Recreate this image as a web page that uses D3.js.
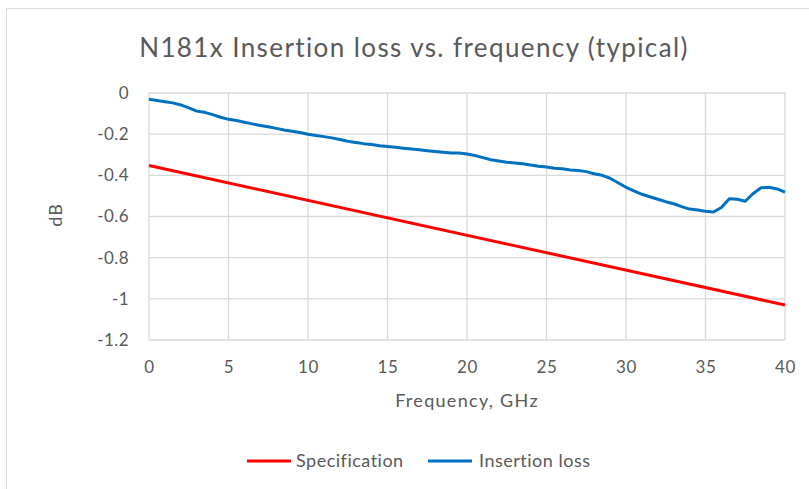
<!DOCTYPE html>
<html>
<head>
<meta charset="utf-8">
<script src="https://cdn.jsdelivr.net/npm/d3@7"></script>
<style>
  body { margin: 0; background: #fff; }
  svg { display: block; }
  text { font-family: "Lato", "Open Sans", sans-serif; fill: #595959; }
</style>
</head>
<body>
<svg id="chart" width="809" height="489"></svg>
<script>
const title = "N181x Insertion loss vs. frequency (typical)";
const xTicks = [0, 5, 10, 15, 20, 25, 30, 35, 40];
const yTicks = [0, -0.2, -0.4, -0.6, -0.8, -1, -1.2];
const specFreq = [0, 40];
const specValues = [-0.352, -1.03];
const lossFreq = [0,0.5,1,1.5,2,2.5,3,3.5,4,4.5,5,5.5,6,6.5,7,7.5,8,8.5,9,9.5,10,10.5,11,11.5,12,12.5,13,13.5,14,14.5,15,15.5,16,16.5,17,17.5,18,18.5,19,19.5,20,20.5,21,21.5,22,22.5,23,23.5,24,24.5,25,25.5,26,26.5,27,27.5,28,28.5,29,29.5,30,30.5,31,31.5,32,32.5,33,33.5,34,34.5,35,35.5,36,36.5,37,37.5,38,38.5,39,39.5,40];
const lossValues = [-0.030,-0.036,-0.042,-0.048,-0.058,-0.072,-0.088,-0.094,-0.105,-0.118,-0.128,-0.134,-0.142,-0.150,-0.158,-0.164,-0.172,-0.180,-0.186,-0.192,-0.200,-0.206,-0.212,-0.218,-0.226,-0.234,-0.240,-0.246,-0.250,-0.256,-0.260,-0.264,-0.268,-0.272,-0.276,-0.280,-0.284,-0.288,-0.292,-0.292,-0.296,-0.304,-0.314,-0.324,-0.330,-0.336,-0.340,-0.344,-0.350,-0.356,-0.360,-0.366,-0.368,-0.374,-0.376,-0.382,-0.392,-0.400,-0.414,-0.436,-0.458,-0.476,-0.492,-0.504,-0.516,-0.528,-0.538,-0.552,-0.564,-0.568,-0.574,-0.578,-0.556,-0.514,-0.516,-0.526,-0.488,-0.460,-0.458,-0.466,-0.482];
const seriesNames = ["Specification", "Insertion loss"];
const seriesColors = ["#FF0000", "#0070C0"];

const svg = d3.select("#chart");
// outer chart border
svg.append("rect").attr("x", 6.5).attr("y", 8.5).attr("width", 900).attr("height", 600)
  .attr("fill", "none").attr("stroke", "#d9d9d9").attr("stroke-width", 1);

const pLeft = 149, pRight = 785, pTop = 93, pBottom = 340;
const x = d3.scaleLinear().domain([0, 40]).range([pLeft, pRight]);
const y = d3.scaleLinear().domain([-1.2, 0]).range([pBottom, pTop]);

// grid
const g = svg.append("g");
g.selectAll(".hg").data(yTicks).join("line")
  .attr("x1", pLeft).attr("x2", pRight).attr("y1", d => y(d)).attr("y2", d => y(d))
  .attr("stroke", "#d9d9d9").attr("stroke-width", 1.3);
g.selectAll(".vg").data(xTicks).join("line")
  .attr("y1", pTop).attr("y2", pBottom).attr("x1", d => x(d)).attr("x2", d => x(d))
  .attr("stroke", "#d9d9d9").attr("stroke-width", 1.3);

// axes via d3 axis
const xAxis = d3.axisBottom(x).tickValues(xTicks).tickSize(0).tickPadding(21).tickFormat(d3.format("d"));
const xg = svg.append("g").attr("transform", `translate(0,${pBottom})`).call(xAxis);
xg.select(".domain").remove();
xg.selectAll("text").style("font-size", "17px").style("letter-spacing", "0.6px").attr("fill", "#595959");

const yAxis = d3.axisLeft(y).tickValues(yTicks).tickSize(0).tickPadding(20)
  .tickFormat(d => d === 0 ? "0" : String(d));
const yg = svg.append("g").attr("transform", `translate(${pLeft},0)`).call(yAxis);
yg.select(".domain").remove();
yg.selectAll("text").style("font-size", "17px").style("letter-spacing", "0.4px").attr("fill", "#595959");

// lines
const specData = specFreq.map((f, i) => [f, specValues[i]]);
const lossData = lossFreq.map((f, i) => [f, lossValues[i]]);
const line = d3.line().x(d => x(d[0])).y(d => y(d[1]));
svg.append("path").datum(specData).attr("d", line).attr("fill", "none")
  .attr("stroke", seriesColors[0]).attr("stroke-width", 3);
svg.append("path").datum(lossData).attr("d", line).attr("fill", "none")
  .attr("stroke", seriesColors[1]).attr("stroke-width", 3).attr("stroke-linejoin", "round");

// title
svg.append("text").attr("x", 414).attr("y", 57).attr("text-anchor", "middle")
  .style("font-size", "26px").style("letter-spacing", "1.4px").text(title);

// axis titles
svg.append("text").attr("x", 467).attr("y", 407).attr("text-anchor", "middle")
  .style("font-size", "18px").style("letter-spacing", "1.3px").text("Frequency, GHz");
svg.append("text").attr("transform", "translate(62,215) rotate(-90)").attr("text-anchor", "middle")
  .style("font-size", "18px").style("letter-spacing", "1px").text("dB");

// legend
const legendItems = [{x: 247, tx: 296}, {x: 428, tx: 479}];
seriesNames.forEach((name, i) => {
  svg.append("line").attr("x1", legendItems[i].x).attr("x2", legendItems[i].x + 44)
    .attr("y1", 461).attr("y2", 461).attr("stroke", seriesColors[i]).attr("stroke-width", 3);
  svg.append("text").attr("x", legendItems[i].tx).attr("y", 467)
    .style("font-size", "18px").style("letter-spacing", "0.5px").text(name);
});
</script>
</body>
</html>
